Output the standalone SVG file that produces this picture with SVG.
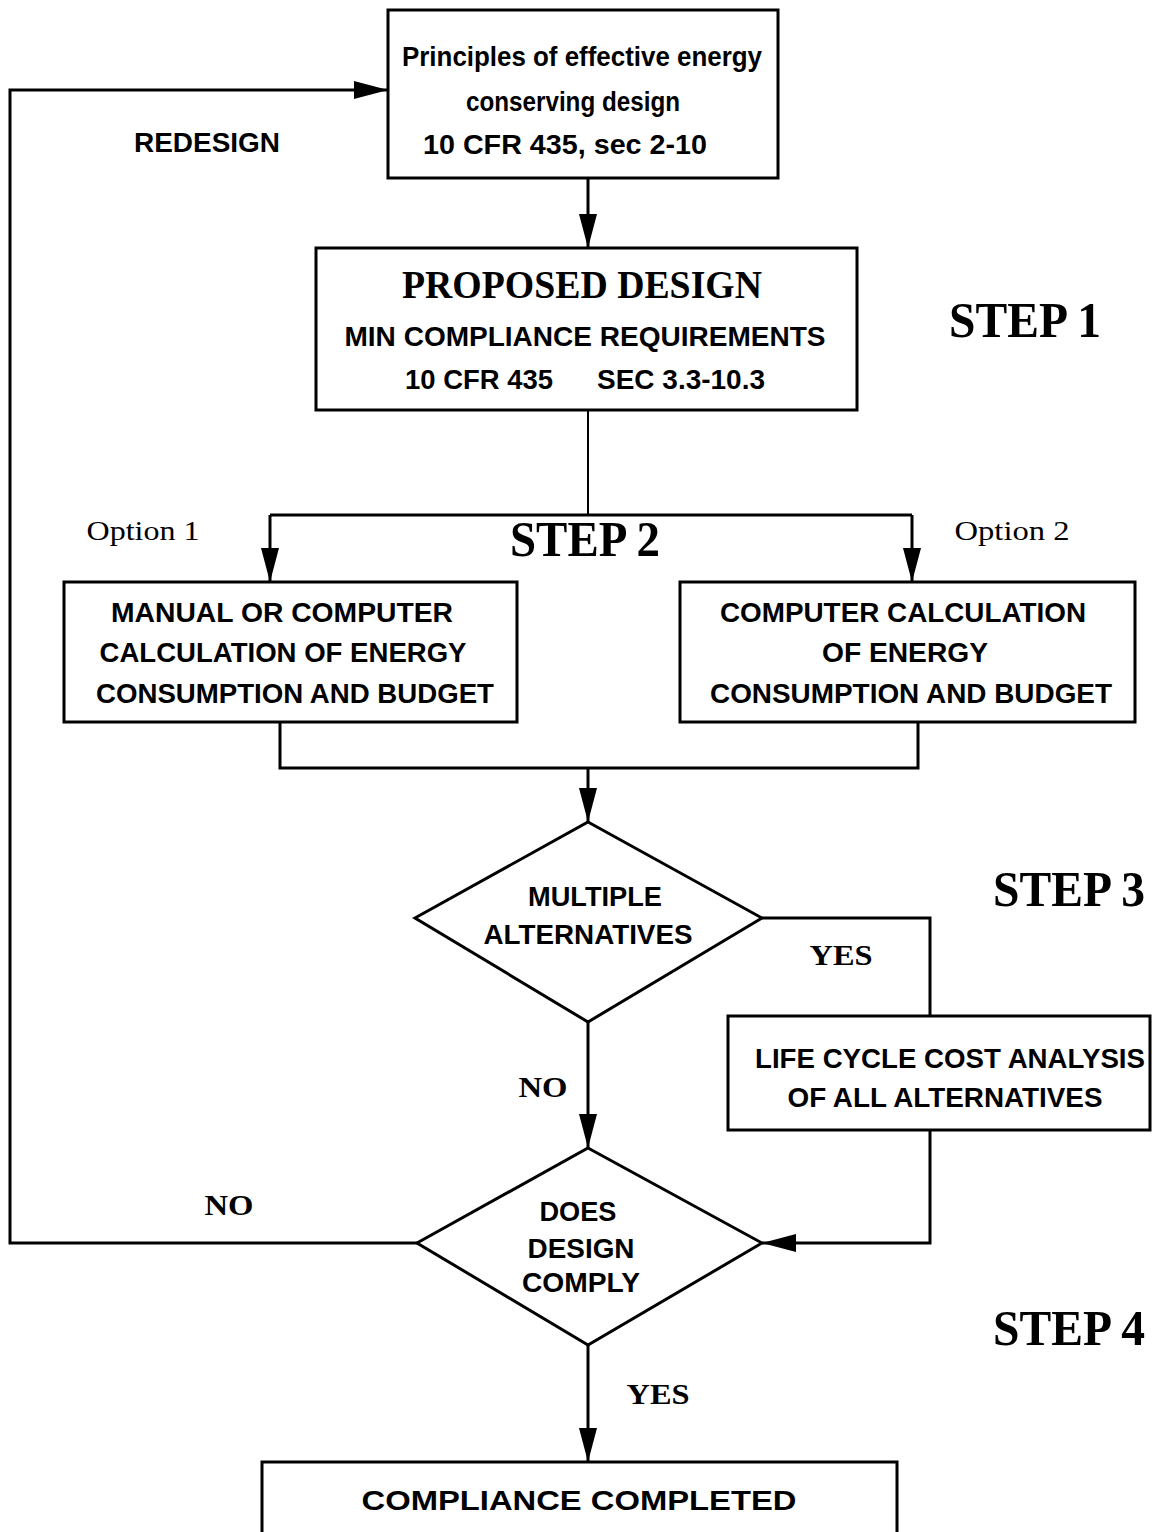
<svg xmlns="http://www.w3.org/2000/svg" width="1156" height="1532" viewBox="0 0 1156 1532">
<defs>
<marker id="arr" markerUnits="userSpaceOnUse" markerWidth="36" markerHeight="20" refX="34" refY="9" orient="auto">
<path d="M0,0 L34,9 L0,18 Z" fill="#000"/>
</marker>
<style>
.box{fill:#fff;stroke:#000;stroke-width:3}
.ln{fill:none;stroke:#000;stroke-width:3}
.s{font-family:"Liberation Sans",Arial,sans-serif;font-size:27px;font-weight:bold;fill:#000;text-anchor:middle}
.r{font-family:"Liberation Serif","Times New Roman",serif;fill:#000;text-anchor:middle}
.step{font-size:50px;font-weight:bold}
.yn{font-size:30px;font-weight:bold}
.opt{font-size:28px}
</style>
</defs>
<rect width="1156" height="1532" fill="#fff"/>
<g id="connectors">
<polyline class="ln" points="417,1243 10,1243 10,90 388,90" marker-end="url(#arr)"/>
<line class="ln" x1="588" y1="178" x2="588" y2="248" marker-end="url(#arr)"/>
<polyline class="ln" points="588,410 588,515" style="stroke-width:2"/>
<polyline class="ln" points="270,515 912,515"/>
<line class="ln" x1="270" y1="515" x2="270" y2="582" marker-end="url(#arr)"/>
<line class="ln" x1="912" y1="515" x2="912" y2="582" marker-end="url(#arr)"/>
<polyline class="ln" points="280,722 280,768 918,768 918,722"/>
<line class="ln" x1="588" y1="768" x2="588" y2="822" marker-end="url(#arr)"/>
<polyline class="ln" points="762,918 930,918 930,1016"/>
<line class="ln" x1="588" y1="1022" x2="588" y2="1148" marker-end="url(#arr)"/>
<polyline class="ln" points="930,1130 930,1243 762,1243" marker-end="url(#arr)"/>
<line class="ln" x1="588" y1="1345" x2="588" y2="1462" marker-end="url(#arr)"/>
</g>
<g id="principles">
<rect class="box" x="388" y="10" width="390" height="168"/>
<text class="s" x="582" y="66" textLength="360" lengthAdjust="spacingAndGlyphs">Principles of effective energy</text>
<text class="s" x="573" y="111" textLength="214" lengthAdjust="spacingAndGlyphs">conserving design</text>
<text class="s" x="565" y="154" textLength="284" lengthAdjust="spacingAndGlyphs">10 CFR 435, sec 2-10</text>
</g>
<text class="s" x="207" y="152" textLength="146" lengthAdjust="spacingAndGlyphs">REDESIGN</text>
<g id="proposed">
<rect class="box" x="316" y="248" width="541" height="162"/>
<text class="r" x="582" y="298" style="font-size:40px;font-weight:bold" textLength="360" lengthAdjust="spacingAndGlyphs">PROPOSED DESIGN</text>
<text class="s" x="585" y="346" textLength="481" lengthAdjust="spacingAndGlyphs">MIN COMPLIANCE REQUIREMENTS</text>
<text class="s" x="479" y="389" textLength="148" lengthAdjust="spacingAndGlyphs">10 CFR 435</text>
<text class="s" x="681" y="389" textLength="168" lengthAdjust="spacingAndGlyphs">SEC 3.3-10.3</text>
</g>
<text class="r step" x="1025" y="337" textLength="152" lengthAdjust="spacingAndGlyphs">STEP 1</text>
<text class="r opt" x="143" y="540" textLength="113" lengthAdjust="spacingAndGlyphs">Option 1</text>
<text class="r opt" x="1012" y="540" textLength="115" lengthAdjust="spacingAndGlyphs">Option 2</text>
<text class="r step" x="585" y="556" textLength="150" lengthAdjust="spacingAndGlyphs">STEP 2</text>
<g id="option1">
<rect class="box" x="64" y="582" width="453" height="140"/>
<text class="s" x="282" y="622" textLength="342" lengthAdjust="spacingAndGlyphs">MANUAL OR COMPUTER</text>
<text class="s" x="283" y="662" textLength="367" lengthAdjust="spacingAndGlyphs">CALCULATION OF ENERGY</text>
<text class="s" x="295" y="703" textLength="398" lengthAdjust="spacingAndGlyphs">CONSUMPTION AND BUDGET</text>
</g>
<g id="option2">
<rect class="box" x="680" y="582" width="455" height="140"/>
<text class="s" x="903" y="622" textLength="366" lengthAdjust="spacingAndGlyphs">COMPUTER CALCULATION</text>
<text class="s" x="905" y="662" textLength="166" lengthAdjust="spacingAndGlyphs">OF ENERGY</text>
<text class="s" x="911" y="703" textLength="402" lengthAdjust="spacingAndGlyphs">CONSUMPTION AND BUDGET</text>
</g>
<g id="multiple">
<polygon class="box" points="588,822 762,918 588,1022 415,918"/>
<text class="s" x="595" y="906" textLength="134" lengthAdjust="spacingAndGlyphs">MULTIPLE</text>
<text class="s" x="588" y="944" textLength="209" lengthAdjust="spacingAndGlyphs">ALTERNATIVES</text>
</g>
<text class="r step" x="1069" y="906" textLength="152" lengthAdjust="spacingAndGlyphs">STEP 3</text>
<text class="r yn" x="841" y="965" textLength="63" lengthAdjust="spacingAndGlyphs">YES</text>
<g id="lcca">
<rect class="box" x="728" y="1016" width="422" height="114"/>
<text class="s" x="950" y="1068" textLength="390" lengthAdjust="spacingAndGlyphs">LIFE CYCLE COST ANALYSIS</text>
<text class="s" x="945" y="1107" textLength="315" lengthAdjust="spacingAndGlyphs">OF ALL ALTERNATIVES</text>
</g>
<text class="r yn" x="543" y="1097" textLength="49" lengthAdjust="spacingAndGlyphs">NO</text>
<text class="r yn" x="229" y="1215" textLength="49" lengthAdjust="spacingAndGlyphs">NO</text>
<g id="comply">
<polygon class="box" points="588,1148 762,1243 588,1345 417,1243"/>
<text class="s" x="578" y="1221" textLength="77" lengthAdjust="spacingAndGlyphs">DOES</text>
<text class="s" x="581" y="1258" textLength="107" lengthAdjust="spacingAndGlyphs">DESIGN</text>
<text class="s" x="581" y="1292" textLength="118" lengthAdjust="spacingAndGlyphs">COMPLY</text>
</g>
<text class="r step" x="1069" y="1345" textLength="152" lengthAdjust="spacingAndGlyphs">STEP 4</text>
<text class="r yn" x="658" y="1404" textLength="63" lengthAdjust="spacingAndGlyphs">YES</text>
<g id="completed">
<rect class="box" x="262" y="1462" width="635" height="80"/>
<text class="s" x="579" y="1510" textLength="435" lengthAdjust="spacingAndGlyphs">COMPLIANCE COMPLETED</text>
</g>
</svg>
